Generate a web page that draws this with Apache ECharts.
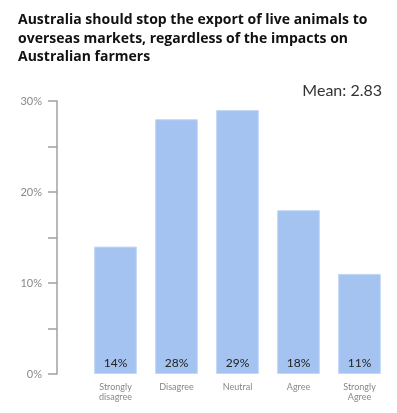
<!DOCTYPE html>
<html>
<head>
<meta charset="utf-8">
<script src="https://cdn.jsdelivr.net/npm/echarts@6/dist/echarts.min.js"></script>
<style>
  html, body { margin: 0; padding: 0; background: #fff; }
  #main { width: 397px; height: 413px; }
</style>
</head>
<body>
<div id="main"></div>
<script>
// survey answers
const categories = ['Strongly\ndisagree', 'Disagree', 'Neutral', 'Agree', 'Strongly\nAgree'];
const shares = [14, 28, 29, 18, 11];
const meanText = 'Mean: 2.83';

const chart = echarts.init(document.getElementById('main'));
chart.setOption({
  animation: false,
  title: [{
    text: 'Australia should stop the export of live animals to\noverseas markets, regardless of the impacts on\nAustralian farmers',
    left: 13,
    top: 6,
    textStyle: {
      fontFamily: 'Open Sans',
      fontWeight: 'bold',
      fontSize: 14,
      lineHeight: 18.5,
      color: '#111'
    }
  }, {
    text: meanText,
    right: 10,
    top: 78,
    textStyle: {
      fontFamily: 'Lato',
      fontWeight: 'normal',
      fontSize: 16,
      color: '#333'
    }
  }],
  grid: {
    left: 85,
    right: 7,
    top: 101,
    bottom: 39
  },
  xAxis: {
    type: 'category',
    data: categories,
    axisLine: { show: false },
    axisTick: { show: false },
    axisLabel: {
      color: '#888',
      fontFamily: 'Lato',
      fontSize: 9,
      lineHeight: 10,
      margin: 8,
      interval: 0
    }
  },
  yAxis: {
    type: 'value',
    min: 0,
    max: 30,
    interval: 5,
    offset: 28,
    splitLine: { show: false },
    axisLine: { show: true, lineStyle: { color: '#a0a0a0', width: 1.5 } },
    axisTick: { show: true, interval: 0, length: 9, lineStyle: { color: '#a0a0a0', width: 1.5 } },
    axisLabel: {
      color: '#888',
      fontFamily: 'Lato',
      fontSize: 11,
      margin: 15,
      formatter: function (v) {
        return v % 10 === 0 ? v + '%' : '';
      }
    }
  },
  series: [{
    type: 'bar',
    data: shares,
    barCategoryGap: '30%',
    itemStyle: {
      color: '#a4c3f1',
      borderColor: '#c3d7f6',
      borderWidth: 1
    },
    label: {
      show: true,
      position: 'insideBottom',
      distance: 5,
      formatter: '{c}%',
      color: '#222',
      fontFamily: 'Lato',
      fontSize: 12
    }
  }]
});
</script>
</body>
</html>
